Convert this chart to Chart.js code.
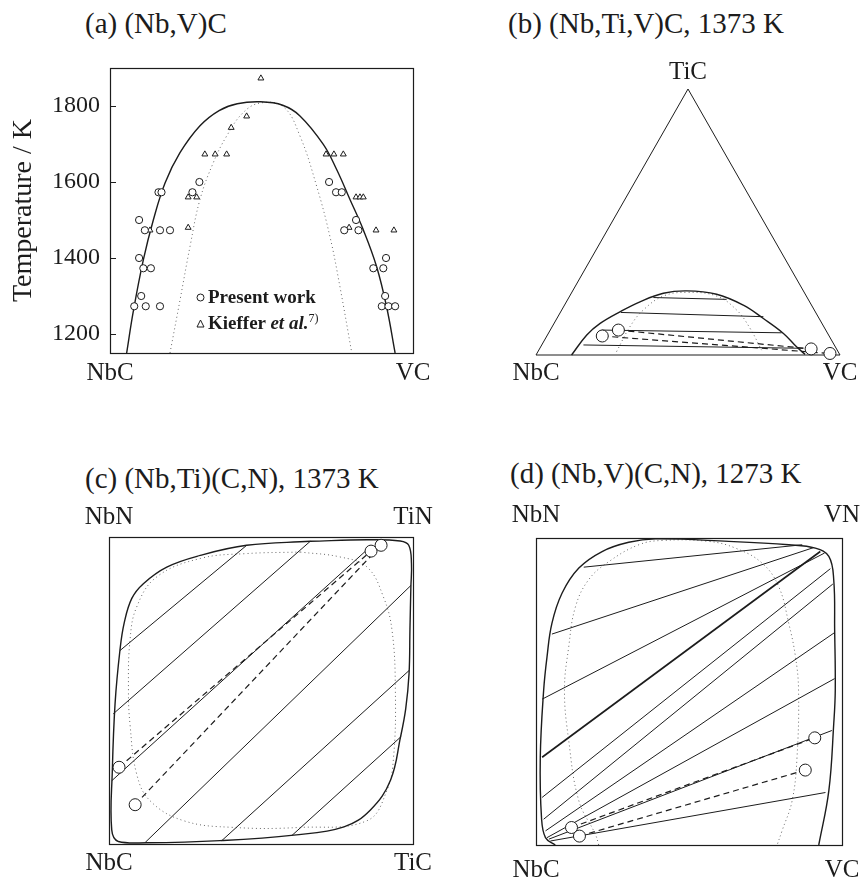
<!DOCTYPE html>
<html lang="en">
<head>
<meta charset="UTF-8">
<title>Miscibility gaps in NbC-based carbides and carbonitrides</title>
<script src="https://cdn.jsdelivr.net/npm/chart.js"></script>
<style>
  body { margin: 0; background: #fff; }
  #page { position: relative; width: 862px; height: 877px; overflow: hidden;
          font-family: "Liberation Serif", "Times New Roman", serif; color: #1c1c1c; }
  #page canvas { position: absolute; }
  .title { position: absolute; font-size: 29px; line-height: 29px; white-space: nowrap; }
  .legend { position: absolute; left: 196px; font-size: 19px; line-height: 19px; font-weight: bold; white-space: nowrap; }
  .legend svg { vertical-align: 1px; margin-right: 3px; }
  .legend sup { font-size: 12px; font-weight: normal; vertical-align: 7px; line-height: 0; }
</style>
</head>
<body>
<div id="page">
  <div class="title" style="left:85px; top:9px;">(a) (Nb,V)C</div>
  <div class="title" style="left:508px; top:9px;">(b) (Nb,Ti,V)C, 1373 K</div>
  <div class="title" style="left:85px; top:464px;">(c) (Nb,Ti)(C,N), 1373 K</div>
  <div class="title" style="left:510px; top:459px;">(d) (Nb,V)(C,N), 1273 K</div>

  <canvas id="chartA" width="440" height="360" style="left:0; top:40px;"></canvas>
  <canvas id="chartB" width="422" height="360" style="left:440px; top:40px;"></canvas>
  <canvas id="chartC" width="440" height="437" style="left:0; top:440px;"></canvas>
  <canvas id="chartD" width="422" height="437" style="left:440px; top:440px;"></canvas>

  <div class="legend" style="top:287px;">
    <svg width="9" height="9"><circle cx="4.5" cy="4.5" r="3.5" fill="#fff" stroke="#1c1c1c"/></svg>Present work
  </div>
  <div class="legend" style="top:313px;">
    <svg width="9" height="9"><path d="M4.5 1 L8 8 L1 8 Z" fill="#fff" stroke="#1c1c1c"/></svg>Kieffer <i>et al.</i><sup>7)</sup>
  </div>
</div>

<script>
// (a) (Nb,V)C: x = fraction VC, y = temperature / K
const nbvPresent = [
  [0.096, 1500], [0.115, 1473], [0.165, 1473], [0.198, 1473], [0.096, 1400],
  [0.11, 1373], [0.135, 1373], [0.103, 1300], [0.08, 1273], [0.118, 1273],
  [0.165, 1273], [0.16, 1573], [0.17, 1573], [0.272, 1573], [0.295, 1600],
  [0.723, 1600], [0.746, 1573], [0.765, 1573], [0.812, 1500], [0.773, 1473],
  [0.82, 1473], [0.911, 1400], [0.869, 1373], [0.902, 1373], [0.908, 1300],
  [0.897, 1273], [0.919, 1273], [0.941, 1273]
];
const nbvKieffer = [
  [0.132, 1473], [0.258, 1480], [0.258, 1560], [0.286, 1560], [0.313, 1673],
  [0.347, 1673], [0.385, 1673], [0.4, 1743], [0.451, 1773], [0.498, 1873],
  [0.713, 1673], [0.739, 1673], [0.77, 1673], [0.812, 1560], [0.825, 1560],
  [0.836, 1560], [0.789, 1480], [0.878, 1473], [0.937, 1473]
];
const nbvBinodal = [
  [0.055, 1150], [0.077, 1260], [0.11, 1395], [0.143, 1500], [0.182, 1598],
  [0.231, 1677], [0.297, 1748], [0.36, 1788], [0.42, 1806], [0.497, 1811],
  [0.57, 1802], [0.627, 1774], [0.704, 1699], [0.748, 1633], [0.792, 1554],
  [0.836, 1474], [0.88, 1377], [0.913, 1271], [0.941, 1150]
];
const nbvSpinodal = [
  [0.198, 1150], [0.231, 1289], [0.264, 1430], [0.297, 1554], [0.341, 1651],
  [0.385, 1721], [0.44, 1783], [0.497, 1808], [0.572, 1798], [0.627, 1721],
  [0.682, 1589], [0.726, 1456], [0.759, 1324], [0.798, 1150]
];
const tempTicks = [1200, 1400, 1600, 1800];
const nbvEnds = ['NbC', 'VC'];

// (b) (Nb,Ti,V)C at 1373 K, triangle drawn in plot units (base 1, height 0.875)
const ternaryEdges = [[0, 0], [0.5, 0.875], [1, 0], [0, 0]];
const ternaryBinodal = [
  [0.117, 0], [0.167, 0.066], [0.211, 0.104], [0.276, 0.142], [0.342, 0.175],
  [0.419, 0.203], [0.496, 0.211], [0.594, 0.2], [0.682, 0.164], [0.748, 0.12],
  [0.814, 0.071], [0.857, 0.027], [0.885, 0.002]
];
const ternarySpinodal = [
  [0.265, 0.011], [0.309, 0.093], [0.353, 0.148], [0.419, 0.194], [0.496, 0.206],
  [0.594, 0.194], [0.66, 0.148], [0.704, 0.088], [0.742, 0.016]
];
const ternaryTies = [
  [[0.386, 0.189], [0.627, 0.183]],
  [[0.279, 0.14], [0.748, 0.126]],
  [[0.216, 0.082], [0.808, 0.073]],
  [[0.156, 0.033], [0.879, 0.022]]
];
const ternaryMeasured = [[0.218, 0.0625], [0.271, 0.082], [0.905, 0.02], [0.967, 0.005]];
const ternaryMeasuredTies = [
  [[0.271, 0.082], [0.905, 0.02]],
  [[0.218, 0.0625], [0.967, 0.005]]
];
const ternaryBase = ['NbC', 'VC'];
const ternaryApex = ['TiC'];

// (c) (Nb,Ti)(C,N) at 1373 K: x = Ti fraction, y = N fraction
const nbtiBinodal = [
  [0.662, 0.986], [0.848, 0.991], [0.958, 0.987], [0.986, 0.973], [0.995, 0.913],
  [0.993, 0.837], [0.99, 0.7], [0.987, 0.555], [0.976, 0.44], [0.959, 0.349],
  [0.926, 0.208], [0.86, 0.111], [0.773, 0.056], [0.608, 0.029], [0.365, 0.011],
  [0.124, 0.004], [0.031, 0.008], [0.009, 0.046], [0.011, 0.241], [0.02, 0.458],
  [0.036, 0.631], [0.05, 0.72], [0.075, 0.8], [0.113, 0.848], [0.19, 0.902],
  [0.3, 0.94], [0.453, 0.973], [0.662, 0.986]
];
const nbtiSpinodal = [
  [0.629, 0.951], [0.76, 0.935], [0.849, 0.902], [0.903, 0.804], [0.931, 0.696],
  [0.942, 0.5], [0.936, 0.282], [0.914, 0.174], [0.849, 0.076], [0.629, 0.054],
  [0.409, 0.054], [0.245, 0.076], [0.135, 0.141], [0.091, 0.228], [0.069, 0.391],
  [0.064, 0.5], [0.069, 0.663], [0.091, 0.772], [0.157, 0.87], [0.3, 0.93],
  [0.453, 0.946], [0.629, 0.951]
];
const nbtiTies = [
  [[0.036, 0.63], [0.453, 0.973]],
  [[0.014, 0.424], [0.662, 0.986]],
  [[0.009, 0.206], [0.865, 0.973]],
  [[0.119, 0.005], [0.993, 0.842]],
  [[0.371, 0.011], [0.987, 0.565]],
  [[0.602, 0.028], [0.961, 0.35]]
];
const nbtiMeasured = [[0.862, 0.954], [0.895, 0.973], [0.033, 0.25], [0.086, 0.128]];
const nbtiMeasuredTies = [
  [[0.033, 0.25], [0.862, 0.954]],
  [[0.086, 0.128], [0.895, 0.973]]
];
const nbtiCorners = { bottom: ['NbC', 'TiC'], top: ['NbN', 'TiN'] };

// (d) (Nb,V)(C,N) at 1273 K: x = V fraction, y = N fraction
const nbvcnBinodal = [
  [0.924, 0], [0.957, 0.177], [0.973, 0.395], [0.978, 0.504], [0.976, 0.7],
  [0.973, 0.864], [0.957, 0.94], [0.913, 0.967], [0.826, 0.978], [0.63, 0.989],
  [0.39, 0.997], [0.303, 0.986], [0.216, 0.956], [0.14, 0.902], [0.085, 0.82],
  [0.052, 0.722], [0.036, 0.613], [0.025, 0.504], [0.014, 0.286], [0.018, 0.089],
  [0.031, 0.024], [0.063, 0]
];
const nbvcnSpinodal = [
  [0.205, 0], [0.194, 0.035], [0.14, 0.144], [0.107, 0.34], [0.093, 0.504],
  [0.107, 0.646], [0.129, 0.776], [0.172, 0.864], [0.238, 0.923], [0.336, 0.978],
  [0.412, 0.992], [0.564, 0.989], [0.652, 0.967], [0.739, 0.918], [0.793, 0.842],
  [0.826, 0.722], [0.848, 0.613], [0.858, 0.504], [0.853, 0.286], [0.837, 0.144],
  [0.804, 0.046], [0.788, 0]
];
const nbvcnTies = [
  [[0.156, 0.905], [0.87, 0.978]],
  [[0.052, 0.687], [0.905, 0.968]],
  [[0.02, 0.475], [0.943, 0.951]],
  [[0.02, 0.155], [0.962, 0.9]],
  [[0.025, 0.084], [0.97, 0.85]],
  [[0.031, 0.046], [0.976, 0.692]],
  [[0.036, 0.024], [0.976, 0.542]],
  [[0.042, 0.019], [0.967, 0.373]],
  [[0.047, 0.013], [0.946, 0.171]]
];
const nbvcnHeavyTie = [[0.02, 0.286], [0.929, 0.956]];
const nbvcnMeasured = [[0.911, 0.349], [0.88, 0.244], [0.116, 0.057], [0.142, 0.029]];
const nbvcnMeasuredTies = [
  [[0.116, 0.057], [0.911, 0.349]],
  [[0.142, 0.029], [0.88, 0.244]]
];
const nbvcnCorners = { bottom: ['NbC', 'VC'], top: ['NbN', 'VN'] };

// ---------------------------------------------------------------------------
const INK = '#1c1c1c';
const SERIF = '"Liberation Serif", "Times New Roman", serif';
const xy = arr => arr.map(([x, y]) => ({ x, y }));

function curve(points, extra) {
  return Object.assign({
    data: xy(points), showLine: true, pointRadius: 0, borderColor: INK,
    borderWidth: 1, tension: 0, clip: 10
  }, extra);
}
function markers(points, style, r) {
  return {
    data: xy(points), showLine: false, pointStyle: style, pointRadius: r,
    borderColor: INK, backgroundColor: '#fff', borderWidth: 1, clip: 10
  };
}
const SMOOTH = { tension: 0.4, borderWidth: 1.4 };
const DOTTED = { tension: 0.4, borderDash: [1, 3], borderColor: '#666' };
const DASHED = { borderDash: [6, 4], borderWidth: 1.2 };

// label overflow must not push the chart area around
function zeroPad(s) {
  s.paddingTop = 0; s.paddingBottom = 0; s.paddingLeft = 0; s.paddingRight = 0;
}

// axis that only prints component names at given positions;
// its box height is fixed so the chart area lands where we want it
function nameAxis(pos, values, names, pad, height) {
  return {
    type: 'linear', position: pos, min: 0, max: 1,
    afterBuildTicks: s => { s.ticks = values.map(v => ({ value: v })); },
    afterFit: s => { s.height = height; zeroPad(s); },
    grid: { display: false, drawTicks: false },
    border: { display: false },
    ticks: {
      callback: (v, i) => names[i], font: { family: SERIF, size: 25 }, color: INK,
      padding: pad, maxRotation: 0, autoSkip: false
    }
  };
}
function hiddenAxis(min, max) {
  return { type: 'linear', display: false, min, max };
}

const frame = {
  id: 'frame',
  afterDatasetsDraw(chart, args, opts) {
    if (!opts.show) return;
    const { left, top, right, bottom } = chart.chartArea;
    const ctx = chart.ctx;
    ctx.save();
    ctx.strokeStyle = INK;
    ctx.lineWidth = 1.2;
    ctx.strokeRect(Math.round(left) + 0.5, Math.round(top) + 0.5,
      Math.round(right - left), Math.round(bottom - top));
    ctx.restore();
  }
};

function panel(id, datasets, scales, padding, boxed) {
  return new Chart(document.getElementById(id), {
    type: 'scatter',
    data: { datasets },
    options: {
      responsive: false, animation: false, events: [],
      layout: { padding },
      plugins: { legend: { display: false }, tooltip: { enabled: false }, frame: { show: boxed } },
      scales
    },
    plugins: [frame]
  });
}

// (a)
panel('chartA', [
  markers(nbvPresent, 'circle', 3.6),
  markers(nbvKieffer, 'triangle', 3.4),
  curve(nbvBinodal, SMOOTH),
  curve(nbvSpinodal, DOTTED)
], {
  x: nameAxis('bottom', [0, 1], nbvEnds, 5, 47),
  y: {
    type: 'linear', position: 'left', min: 1150, max: 1900,
    afterBuildTicks: s => { s.ticks = tempTicks.map(v => ({ value: v })); },
    afterFit: s => { s.width = 110; zeroPad(s); },
    grid: { display: true, drawOnChartArea: false, drawTicks: true, tickLength: -6, color: INK },
    border: { display: false },
    ticks: { callback: v => String(v), font: { family: SERIF, size: 24 }, color: INK, padding: 16 },
    title: {
      display: true, text: 'Temperature / K', color: INK,
      font: { family: SERIF, size: 28 }, padding: { top: 7, bottom: 0 }
    }
  }
}, { left: 0, top: 28, right: 27, bottom: 0 }, true);

// (b)
panel('chartB', [
  markers(ternaryMeasured, 'circle', 6),
  ...ternaryMeasuredTies.map(t => curve(t, DASHED)),
  ...ternaryTies.map(t => curve(t)),
  curve(ternaryBinodal, SMOOTH),
  curve(ternarySpinodal, DOTTED),
  curve(ternaryEdges)
], {
  x: nameAxis('bottom', [0, 1], ternaryBase, 3, 45),
  xt: nameAxis('top', [0.5], ternaryApex, 2, 49),
  y: hiddenAxis(0, 0.875)
}, { left: 96, top: 0, right: 22, bottom: 0 }, false);

// (c)
panel('chartC', [
  markers(nbtiMeasured, 'circle', 6),
  ...nbtiMeasuredTies.map(t => curve(t, DASHED)),
  ...nbtiTies.map(t => curve(t)),
  curve(nbtiBinodal, SMOOTH),
  curve(nbtiSpinodal, DOTTED)
], {
  x: nameAxis('bottom', [0, 1], nbtiCorners.bottom, 4, 33),
  xt: nameAxis('top', [0, 1], nbtiCorners.top, 5, 97),
  y: hiddenAxis(0, 1)
}, { left: 109, top: 0, right: 27, bottom: 0 }, true);

// (d)
panel('chartD', [
  markers(nbvcnMeasured, 'circle', 6),
  ...nbvcnMeasuredTies.map(t => curve(t, DASHED)),
  curve(nbvcnHeavyTie, { borderWidth: 1.7 }),
  ...nbvcnTies.map(t => curve(t)),
  curve(nbvcnBinodal, SMOOTH),
  curve(nbvcnSpinodal, DOTTED)
], {
  x: nameAxis('bottom', [0, 1], nbvcnCorners.bottom, 10, 32),
  xt: nameAxis('top', [0, 1], nbvcnCorners.top, 8, 98),
  y: hiddenAxis(0, 1)
}, { left: 96, top: 0, right: 20, bottom: 0 }, true);
</script>
</body>
</html>
